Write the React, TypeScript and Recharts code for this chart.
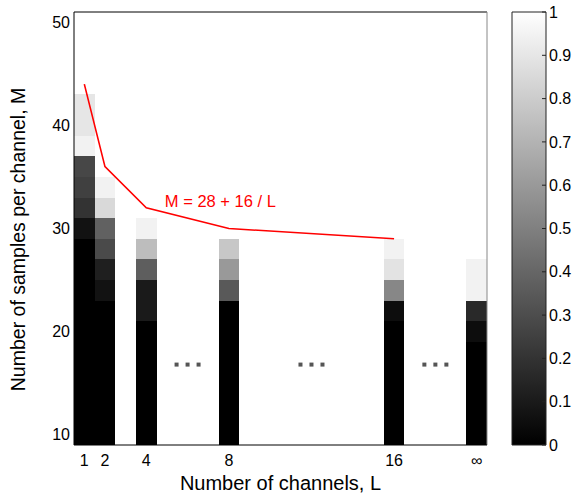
import React from 'react';
import {
  ComposedChart,
  XAxis,
  YAxis,
  ReferenceArea,
  ReferenceDot,
  ReferenceLine,
  Line,
  Scatter,
  Label,
} from 'recharts';

const FONT = '"Liberation Sans", Arial, Helvetica, sans-serif';

// number of channels L; the last column (20) is the "infinity" case
const CHANNELS = [1, 2, 4, 8, 16, 20];
const CHANNEL_LABELS = ['1', '2', '4', '8', '16', '∞'];
const M_TICKS = [10, 20, 30, 40, 50];
const COLORBAR_TICKS = [0, 0.1, 0.2, 0.3, 0.4, 0.5, 0.6, 0.7, 0.8, 0.9, 1];

// recovery rate per cell, starting at M = 10 and going up by 2
const RATE_L1 = [0, 0, 0, 0, 0, 0, 0, 0, 0, 0, 0.07, 0.2, 0.25, 0.28, 0.95, 0.9, 0.9];
const RATE_L2 = [0, 0, 0, 0, 0, 0, 0, 0.07, 0.12, 0.29, 0.38, 0.85, 0.95];
const RATE_L4 = [0, 0, 0, 0, 0, 0, 0.1, 0.1, 0.37, 0.74, 0.95];
const RATE_L8 = [0, 0, 0, 0, 0, 0, 0, 0.35, 0.6, 0.78];
const RATE_L16 = [0, 0, 0, 0, 0, 0, 0.05, 0.53, 0.89, 0.95];
const RATE_INF = [0, 0, 0, 0, 0, 0.05, 0.16, 0.95, 0.95];
const RATES = [RATE_L1, RATE_L2, RATE_L4, RATE_L8, RATE_L16, RATE_INF];
const M_START = 10;
const M_STEP = 2;

// M = 28 + 16 / L
const BOUND = [
  { L: 1, M: 44 },
  { L: 2, M: 36 },
  { L: 4, M: 32 },
  { L: 8, M: 30 },
  { L: 16, M: 29 },
];

// the "..." marks between the columns
const ELLIPSES = [
  { L: 6, M: 16.8 },
  { L: 12, M: 16.8 },
  { L: 18, M: 16.8 },
];

const gray = (v: number) => {
  const g = Math.round(v * 255);
  return `rgb(${g},${g},${g})`;
};

const cells = RATES.flatMap((col, i) =>
  col.map((v, j) => ({ L: CHANNELS[i], M: M_START + j * M_STEP, v }))
);

const cbarData = COLORBAR_TICKS.map((t) => ({ x: 0.5, t }));

const CellShape = (p: any) => (
  <rect
    x={p.x}
    y={p.y}
    width={p.width}
    height={p.height}
    fill={p.fill}
    shapeRendering="crispEdges"
  />
);

const EllipsisShape = (p: any) => (
  <g>
    {[-11, 0, 11].map((d) => (
      <rect key={d} x={p.cx + d - 2} y={p.cy - 2} width={4} height={4} fill="#555" />
    ))}
  </g>
);

const FormulaLabel = (p: any) => (
  <text x={p.viewBox.x} y={p.viewBox.y} fill="#ff0000" fontSize={16.5} fontFamily={FONT}>
    M = 28 + 16 / L
  </text>
);

const XTitle = (p: any) => (
  <text
    x={p.viewBox.x + p.viewBox.width / 2}
    y={p.viewBox.y + 45}
    textAnchor="middle"
    fontSize={20}
    fontFamily={FONT}
    fill="#000"
  >
    Number of channels, L
  </text>
);

const YTitle = (p: any) => {
  const x = 25;
  const y = p.viewBox.y + p.viewBox.height / 2 + 11;
  return (
    <text
      x={x}
      y={y}
      transform={`rotate(-90, ${x}, ${y})`}
      textAnchor="middle"
      fontSize={19.5}
      fontFamily={FONT}
      fill="#000"
    >
      Number of samples per channel, M
    </text>
  );
};

const tickStyle = { fontSize: 16, fill: '#000', fontFamily: FONT };

export default function App() {
  return (
    <div style={{ position: 'absolute', left: 0, top: 0, width: 573, height: 495, background: '#fff' }}>
      <div style={{ position: 'absolute', left: 0, top: 0 }}>
        <ComposedChart width={573} height={495} margin={{ top: 12, right: 86, bottom: 0, left: 0 }}>
          <XAxis
            dataKey="L"
            type="number"
            domain={[0.5, 20.5]}
            ticks={CHANNELS}
            tickFormatter={(v: number) => CHANNEL_LABELS[CHANNELS.indexOf(v)]}
            interval={0}
            height={50}
            tickSize={0}
            tickMargin={10}
            tickLine={false}
            axisLine={{ stroke: '#000' }}
            tick={tickStyle}
            allowDataOverflow
          >
            <Label content={XTitle} />
          </XAxis>
          <YAxis
            dataKey="M"
            type="number"
            domain={[9, 51]}
            ticks={M_TICKS}
            interval={0}
            width={74}
            tickSize={0}
            tickMargin={4}
            tickLine={false}
            axisLine={{ stroke: '#000' }}
            tick={tickStyle}
            allowDataOverflow
          >
            <Label content={YTitle} />
          </YAxis>
          {cells.map((c) => (
            <ReferenceArea
              key={`${c.L}-${c.M}`}
              x1={c.L - 0.5}
              x2={c.L + 0.5}
              y1={c.M - M_STEP / 2}
              y2={c.M + M_STEP / 2}
              fill={gray(c.v)}
              fillOpacity={1}
              stroke="none"
              shape={CellShape}
            />
          ))}
          <ReferenceLine y={51} stroke="#000" ifOverflow="visible" />
          <ReferenceLine x={20.5} stroke="#888" ifOverflow="visible" />
          <Line
            data={BOUND}
            dataKey="M"
            type="linear"
            stroke="#ff0000"
            strokeWidth={1.6}
            dot={false}
            activeDot={false}
            isAnimationActive={false}
          />
          <Scatter data={ELLIPSES} dataKey="M" shape={EllipsisShape} isAnimationActive={false} />
          <ReferenceDot x={4.9} y={32.1} r={0} stroke="none" fill="none" label={FormulaLabel} />
        </ComposedChart>
      </div>
      <div style={{ position: 'absolute', left: 500, top: 0 }}>
        <ComposedChart
          width={73}
          height={495}
          data={cbarData}
          margin={{ top: 12, right: 0, bottom: 50, left: 12 }}
        >
          <defs>
            <linearGradient id="cbarGrad" x1="0" y1="1" x2="0" y2="0">
              {COLORBAR_TICKS.map((t) => (
                <stop key={t} offset={t} stopColor={gray(t)} />
              ))}
            </linearGradient>
          </defs>
          <XAxis dataKey="x" type="number" domain={[0, 1]} hide />
          <YAxis
            yAxisId="cl"
            orientation="left"
            type="number"
            domain={[0, 1]}
            ticks={COLORBAR_TICKS}
            interval={0}
            width={0}
            tickSize={-4}
            tickFormatter={() => ''}
            axisLine={false}
            tickLine={{ stroke: '#222' }}
          />
          <YAxis
            yAxisId="cr"
            orientation="right"
            type="number"
            domain={[0, 1]}
            ticks={COLORBAR_TICKS}
            interval={0}
            width={27}
            tickSize={-4}
            tickMargin={7}
            axisLine={false}
            tickLine={{ stroke: '#222' }}
            tick={tickStyle}
          />
          <ReferenceArea
            yAxisId="cr"
            y1={0}
            y2={1}
            fill="url(#cbarGrad)"
            fillOpacity={1}
            stroke="#222"
            strokeWidth={1}
          />
          <Line yAxisId="cl" dataKey="t" stroke="none" dot={false} activeDot={false} isAnimationActive={false} />
          <Line yAxisId="cr" dataKey="t" stroke="none" dot={false} activeDot={false} isAnimationActive={false} />
        </ComposedChart>
      </div>
    </div>
  );
}
